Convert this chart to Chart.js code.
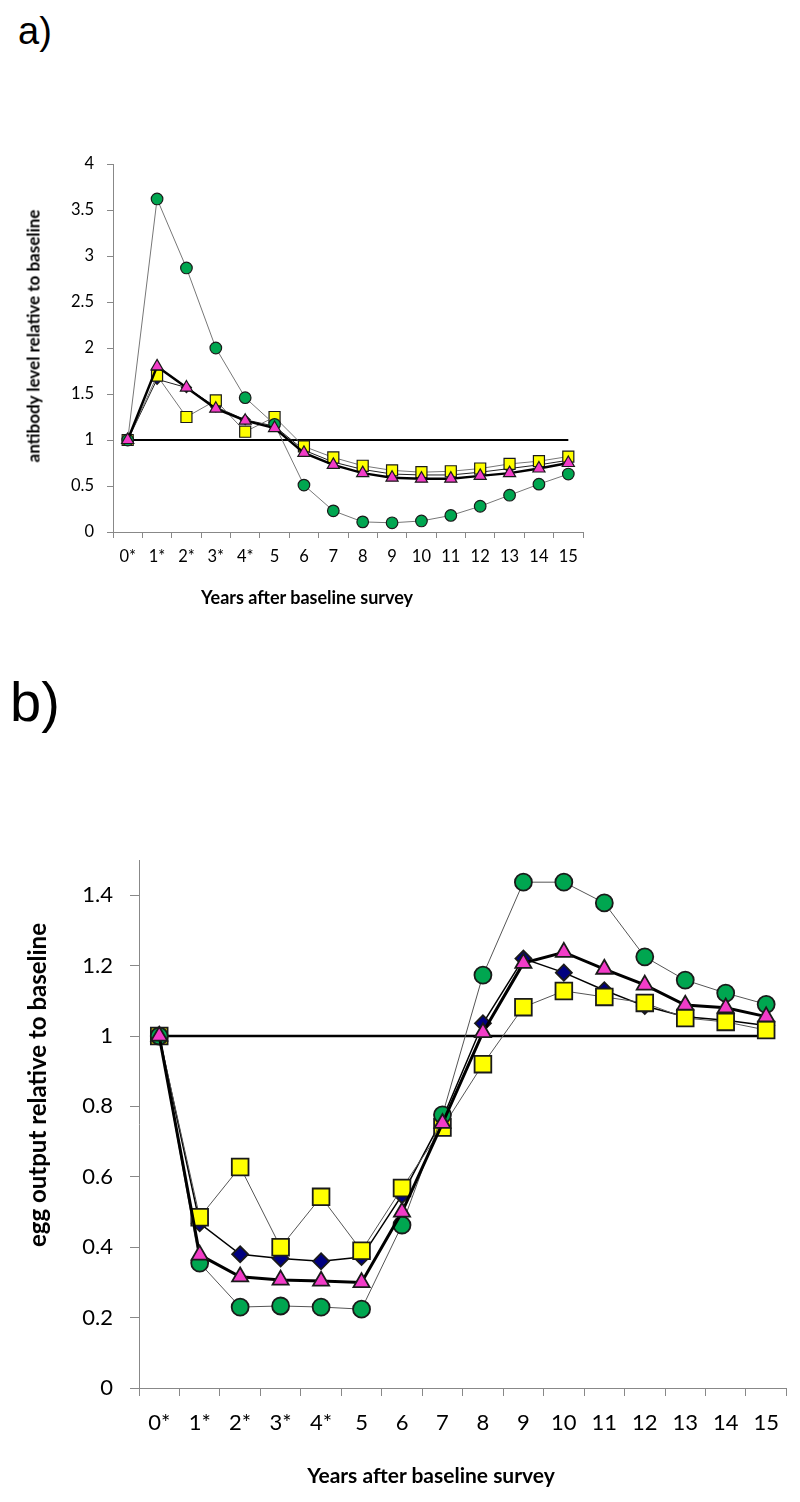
<!DOCTYPE html>
<html>
<head>
<meta charset="utf-8">
<script src="https://cdn.jsdelivr.net/npm/chart.js@4"></script>
<style>
  body { margin: 0; background: #fff; width: 800px; height: 1502px; position: relative; overflow: hidden; }
  canvas { position: absolute; left: 0; }
  #chartA { top: 0; }
  #chartB { top: 620px; }
  .panel { position: absolute; font-family: "Liberation Sans", Arial, sans-serif; line-height: 1; color: #000; }
  .title { position: absolute; font-family: Lato, sans-serif; font-weight: bold; white-space: nowrap; line-height: 1; color: #000; }
  .xt { transform: translate(-50%, -50%); }
  .yt { transform: translate(-50%, -50%) rotate(-90deg); }
</style>
</head>
<body>
<div class="panel" style="left:18px; top:12px; font-size:38px;">a)</div>
<div class="panel" style="left:10px; top:674px; font-size:56px;">b)</div>

<canvas id="chartA" width="800" height="620"></canvas>
<canvas id="chartB" width="800" height="882"></canvas>

<div class="title yt" style="left:33px; top:336px; font-size:17px;">antibody level relative to baseline</div>
<div class="title xt" style="left:307px; top:597px; font-size:18px;">Years after baseline survey</div>
<div class="title yt" style="left:37px; top:1085px; font-size:24px;">egg output relative to baseline</div>
<div class="title xt" style="left:431px; top:1474px; font-size:21px;">Years after baseline survey</div>

<script>
// Categorias del eje x (años tras la encuesta inicial)
const years = ["0*", "1*", "2*", "3*", "4*", "5", "6", "7", "8", "9", "10", "11", "12", "13", "14", "15"];
const baseline = [1, 1, 1, 1, 1, 1, 1, 1, 1, 1, 1, 1, 1, 1, 1, 1];

// a) nivel de anticuerpos
const antibodyCircle   = [1, 3.62, 2.87, 2.0, 1.46, 1.17, 0.51, 0.23, 0.11, 0.10, 0.12, 0.18, 0.28, 0.40, 0.52, 0.63];
const antibodySquare   = [1, 1.70, 1.25, 1.43, 1.09, 1.25, 0.93, 0.81, 0.72, 0.67, 0.65, 0.66, 0.69, 0.74, 0.77, 0.82];
const antibodyDiamond  = [1, 1.66, 1.57, 1.36, 1.22, 1.15, 0.89, 0.76, 0.68, 0.63, 0.62, 0.62, 0.65, 0.69, 0.73, 0.78];
const antibodyTriangle = [1, 1.80, 1.57, 1.34, 1.21, 1.13, 0.86, 0.73, 0.64, 0.59, 0.58, 0.58, 0.61, 0.64, 0.69, 0.75];

// b) producción de huevos
const eggCircle   = [1, 0.355, 0.23, 0.233, 0.23, 0.224, 0.463, 0.776, 1.173, 1.437, 1.437, 1.378, 1.225, 1.159, 1.122, 1.09];
const eggSquare   = [1, 0.485, 0.628, 0.40, 0.543, 0.39, 0.568, 0.74, 0.92, 1.082, 1.128, 1.111, 1.094, 1.051, 1.04, 1.017];
const eggDiamond  = [1, 0.468, 0.38, 0.368, 0.36, 0.372, 0.548, 0.765, 1.036, 1.22, 1.18, 1.13, 1.085, 1.055, 1.045, 1.03];
const eggTriangle = [1, 0.378, 0.316, 0.307, 0.304, 0.30, 0.50, 0.752, 1.01, 1.207, 1.238, 1.19, 1.145, 1.088, 1.08, 1.055];

const green = "#00a650";
const yellow = "#ffff00";
const pink = "#f23cc8";
const navy = "#000080";

function serie(data, shape, radius, color, lineColor, lineWidth, borderW, order) {
  return {
    data: data,
    pointStyle: shape,
    pointRadius: radius,
    pointBackgroundColor: color,
    pointBorderColor: "#1a1a1a",
    pointBorderWidth: borderW,
    borderColor: lineColor,
    borderWidth: lineWidth,
    fill: false,
    tension: 0,
    clip: false,
    order: order,
  };
}

function crearPanel(id, datasets, cfg) {
  const ctx = document.getElementById(id).getContext("2d");
  new Chart(ctx, {
    type: "line",
    data: { labels: years, datasets: datasets },
    options: {
      responsive: false,
      animation: false,
      layout: { padding: { top: cfg.padTop, right: cfg.padRight, left: 0, bottom: 0 } },
      plugins: { legend: { display: false }, tooltip: { enabled: false } },
      scales: {
        x: {
          offset: true,
          grid: { offset: true, drawOnChartArea: false, tickLength: cfg.xTick, color: "#888" },
          border: { color: "#888", width: 1 },
          ticks: { autoSkip: false, maxRotation: 0, padding: cfg.xPad, color: "#000",
                   font: { family: "Lato", size: cfg.font } },
          afterFit: (s) => { s.height = cfg.xHeight; }
        },
        y: {
          min: 0,
          max: cfg.max,
          grid: { drawOnChartArea: false, tickLength: cfg.yTick, color: "#888" },
          border: { color: "#888", width: 1 },
          ticks: { stepSize: cfg.step, includeBounds: false, padding: cfg.yPad, color: "#000",
                   font: { family: "Lato", size: cfg.font },
                   callback: (v) => String(+v.toFixed(1)) },
          afterFit: (s) => { s.width = cfg.yWidth; }
        }
      }
    }
  });
}

crearPanel("chartA", [
  { data: baseline, pointRadius: 0, borderColor: "#000", borderWidth: 2, tension: 0, order: 5 },
  serie(antibodyDiamond, "rectRot", 5, navy, "#222", 1, 1.2, 4),
  serie(antibodySquare, "rect", 7.8, yellow, "#777", 1, 1.2, 3),
  serie(antibodyCircle, "circle", 5.8, green, "#777", 1, 1.2, 2),
  serie(antibodyTriangle, "triangle", 7, pink, "#000", 2.5, 1.2, 1),
], { padTop: 164, padRight: 217, max: 4, step: 0.5, font: 16.5, xTick: 6, xPad: 9, xHeight: 88,
     yTick: 6, yPad: 13, yWidth: 113 });

crearPanel("chartB", [
  { data: baseline, pointRadius: 0, borderColor: "#000", borderWidth: 2.5, tension: 0, order: 5 },
  serie(eggDiamond, "rectRot", 8, navy, "#000", 1.5, 1.8, 4),
  serie(eggSquare, "rect", 11.8, yellow, "#555", 1, 1.8, 3),
  serie(eggCircle, "circle", 8.5, green, "#555", 1, 1.8, 2),
  serie(eggTriangle, "triangle", 9.3, pink, "#000", 3, 1.8, 1),
], { padTop: 240, padRight: 11, max: 1.5, step: 0.2, font: 22, xTick: 8, xPad: 14, xHeight: 114,
     yTick: 9, yPad: 17, yWidth: 139 });
</script>
</body>
</html>
